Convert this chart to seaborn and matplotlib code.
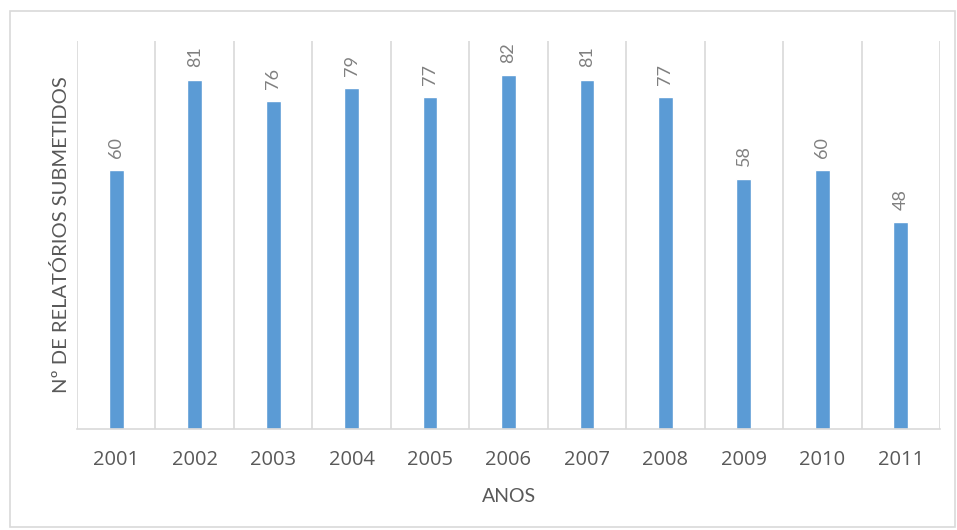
import matplotlib
matplotlib.use("Agg")
import matplotlib.pyplot as plt
import seaborn as sns
import pandas as pd
from matplotlib.patches import Rectangle

anos = ["2001", "2002", "2003", "2004", "2005", "2006", "2007", "2008", "2009", "2010", "2011"]
relatorios = [60, 81, 76, 79, 77, 82, 81, 77, 58, 60, 48]

df = pd.DataFrame({"ano": anos, "n": relatorios})

sns.set_theme(style="white")
plt.rcParams["font.family"] = ["Lato", "DejaVu Sans"]

fig = plt.figure(figsize=(9.57, 5.30), dpi=100)
ax = fig.add_axes([77 / 957, 101 / 530, 863 / 957, 388 / 530])

sns.barplot(data=df, x="ano", y="n", color="#5B9BD5", width=0.19, saturation=1, ax=ax)

ax.set_ylim(0, 90)
ax.set_xlim(-0.5, len(anos) - 0.5)

# vertical gridlines at category boundaries
ax.set_xticks([i - 0.5 for i in range(len(anos) + 1)], minor=True)
ax.grid(True, which="minor", axis="x", color="#D9D9D9", linewidth=1.2)
ax.grid(False, which="major")
ax.tick_params(axis="x", which="both", length=0)
ax.tick_params(axis="x", which="major", labelsize=14.5, colors="#595959", pad=15)
for t in ax.get_xticklabels():
    t.set_fontfamily(["Open Sans", "DejaVu Sans"])
ax.set_yticks([])

for s in ["top", "right", "left"]:
    ax.spines[s].set_visible(False)
ax.spines["bottom"].set_color("#D9D9D9")
ax.spines["bottom"].set_linewidth(1.2)

for c in ax.containers:
    ax.bar_label(c, labels=[str(v) for v in relatorios], rotation=90, padding=9,
                 fontsize=13, color="#808080")

ax.set_xlabel("ANOS", fontsize=14, color="#595959", labelpad=13)
ax.set_ylabel("Nº DE RELATÓRIOS SUBMETIDOS", fontsize=14.5, color="#595959", labelpad=5)

fig.patches.append(Rectangle((10 / 957, 3 / 530), 945 / 957, 516 / 530,
                             transform=fig.transFigure, fill=False,
                             edgecolor="#D9D9D9", linewidth=1.2))

fig.savefig("out.png", dpi=100)
